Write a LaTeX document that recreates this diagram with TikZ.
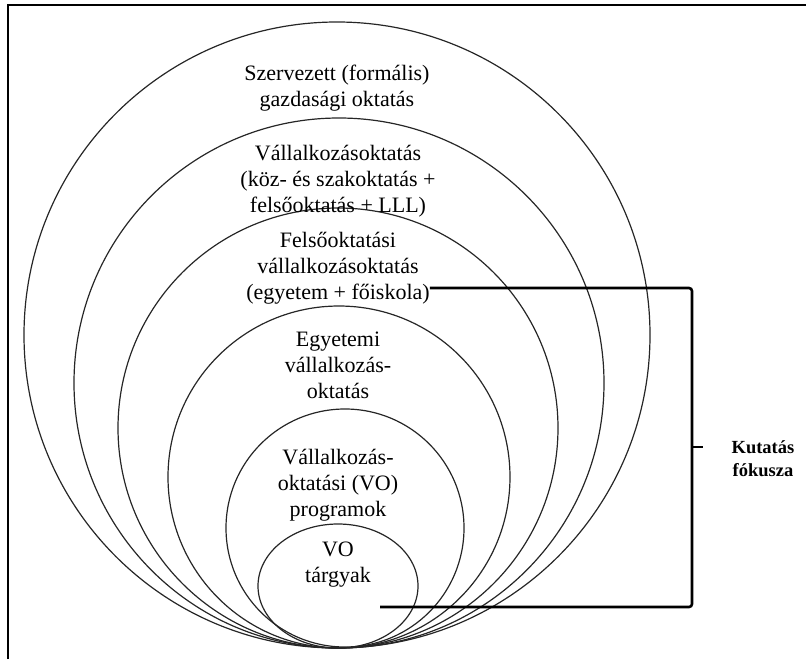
\documentclass[tikz,border=0pt]{standalone}
\usepackage{fontspec}
\setmainfont{Liberation Serif}
\begin{document}
\begin{tikzpicture}[x=1pt,y=-1pt,
  ring/.style={draw=black!85, line width=1.2pt},
  lbl/.style={align=center, font=\fontsize{22}{26}\selectfont, inner sep=0pt},
  note/.style={align=center, font=\fontsize{18.5}{23}\selectfont\bfseries, inner sep=0pt},
  brk/.style={line width=2.6pt, rounded corners=3pt}]
\useasboundingbox (0,0) rectangle (806,659);
% frame (top and left edges)
\draw[line width=2pt] (8,659) -- (8,5) -- (806,5);
% nested rings, all touching at the bottom
\draw[ring] (337,335) circle[radius=313pt];
\draw[ring] (339,383) circle[radius=265pt];
\draw[ring] (338,428) circle[radius=220pt];
\draw[ring] (339,477) circle[radius=171pt];
\draw[ring] (345,528) circle[radius=119pt];
\draw[ring] (338,586) ellipse[x radius=80pt, y radius=62pt];
% ring labels
\node[lbl] (t1) at (337,88) {Szervezett (formális)\\gazdasági oktatás};
\node[lbl] (t2) at (338,181) {Vállalkozásoktatás\\(köz- és szakoktatás +\\felsőoktatás + LLL)};
\node[lbl] (t3) at (338,268) {Felsőoktatási\\vállalkozásoktatás\\(egyetem + főiskola)};
\node[lbl] (t4) at (338,365) {Egyetemi\\vállalkozás-\\oktatás};
\node[lbl] (t5) at (338,485) {Vállalkozás-\\oktatási (VO)\\programok};
\node[lbl] (t6) at (338,565) {VO\\tárgyak};
% research focus bracket
\coordinate (bt) at (t3.south east);
\coordinate (bb) at (380,607);
\coordinate (bm) at (692,447);
\coordinate (bx) at (703,447);
\draw[brk] (bt |- 0,288) -- (692,288) -- (692,607) -- (bb);
\draw[brk] (bm) -- (bx);
\node[note] (focus) at (763,459) {Kutatás\\fókusza};
\end{tikzpicture}
\end{document}
